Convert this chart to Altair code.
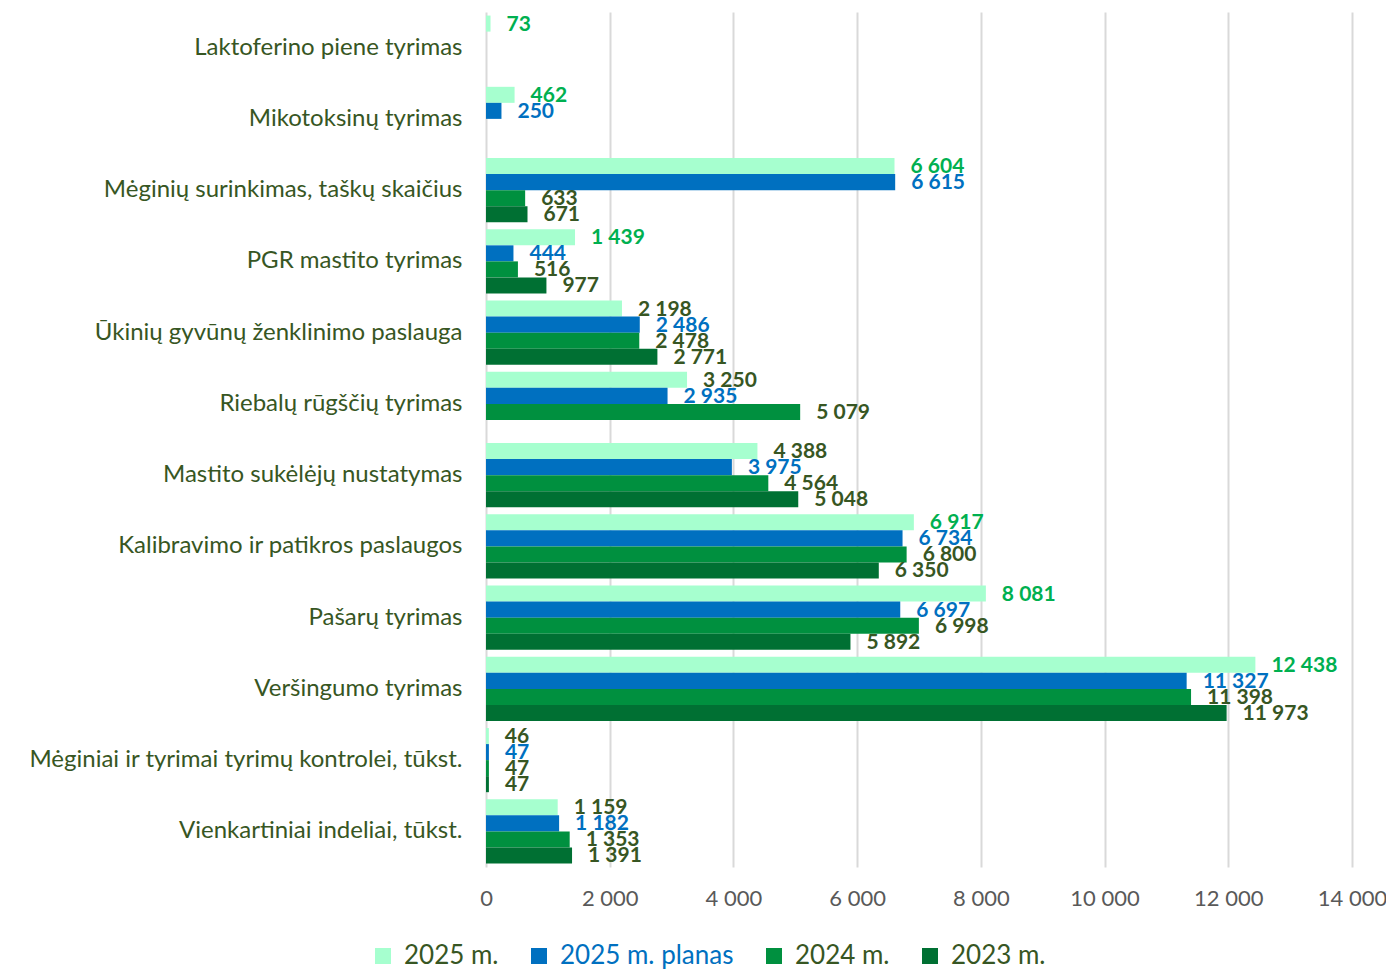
import altair as alt
import pandas as pd

categories = [
    "Laktoferino piene tyrimas",
    "Mikotoksinų tyrimas",
    "Mėginių surinkimas, taškų skaičius",
    "PGR mastito tyrimas",
    "Ūkinių gyvūnų ženklinimo paslauga",
    "Riebalų rūgščių tyrimas",
    "Mastito sukėlėjų nustatymas",
    "Kalibravimo ir patikros paslaugos",
    "Pašarų tyrimas",
    "Veršingumo tyrimas",
    "Mėginiai ir tyrimai tyrimų kontrolei, tūkst.",
    "Vienkartiniai indeliai, tūkst.",
]
series_names = ["2025 m.", "2025 m. planas", "2024 m.", "2023 m."]
v2025 = [73, 462, 6604, 1439, 2198, 3250, 4388, 6917, 8081, 12438, 46, 1159]
v2025_plan = [None, 250, 6615, 444, 2486, 2935, 3975, 6734, 6697, 11327, 47, 1182]
v2024 = [None, None, 633, 516, 2478, 5079, 4564, 6800, 6998, 11398, 47, 1353]
v2023 = [None, None, 671, 977, 2771, None, 5048, 6350, 5892, 11973, 47, 1391]
x_ticks = [0, 2000, 4000, 6000, 8000, 10000, 12000, 14000]
# rows where the 2025 label is shown in bright green
green_label_rows = [
    "Laktoferino piene tyrimas", "Mikotoksinų tyrimas",
    "Mėginių surinkimas, taškų skaičius", "PGR mastito tyrimas",
    "Kalibravimo ir patikros paslaugos", "Pašarų tyrimas", "Veršingumo tyrimas",
]

bar_colors = ["#A6FFCF", "#0070C0", "#00903F", "#007033"]
OLIVE = "#375623"
GREEN = "#00B050"
BLUE = "#0070C0"

rows = []
for s, vals in zip(series_names, [v2025, v2025_plan, v2024, v2023]):
    for c, v in zip(categories, vals):
        if s == "2025 m.":
            lc = GREEN if c in green_label_rows else OLIVE
        elif s == "2025 m. planas":
            lc = BLUE
        else:
            lc = OLIVE
        rows.append({"cat": c, "series": s, "value": v, "lc": lc})
df = pd.DataFrame(rows)

FONT = "Lato"

base = alt.Chart(df).transform_filter("isValid(datum.value)")

y_enc = alt.Y(
    "cat:N", sort=categories,
    scale=alt.Scale(paddingInner=0.1, paddingOuter=0.05),
    axis=alt.Axis(title=None, domain=False, ticks=False, labelFontSize=24,
                  labelColor=OLIVE, labelPadding=24, labelFont=FONT, labelLimit=600),
)
yoff_enc = alt.YOffset("series:N", sort=series_names,
                       scale=alt.Scale(domain=series_names, paddingInner=0, paddingOuter=0))
x_enc = alt.X(
    "value:Q",
    scale=alt.Scale(domain=[0, 14000], nice=False),
    axis=alt.Axis(values=x_ticks, title=None, grid=True, gridColor="#D9D9D9", gridWidth=2,
                  domain=False, ticks=False, labelFlush=False, labelOverlap=False,
                  labelExpr="replace(format(datum.value, ',d'), ',', ' ')",
                  labelFontSize=22, labelColor="#595959", labelPadding=21, labelFont=FONT),
)

bars = base.mark_bar().encode(
    y=y_enc,
    yOffset=yoff_enc,
    x=x_enc,
    color=alt.Color(
        "series:N", sort=series_names,
        scale=alt.Scale(domain=series_names, range=bar_colors),
        legend=alt.Legend(
            title=None, orient="none", direction="horizontal", columns=4,
            legendX=-116, legendY=931,
            symbolType="square", symbolSize=256, symbolStrokeWidth=0,
            labelFontSize=26, labelFont=FONT, labelLimit=400,
            labelColor=alt.ExprRef(
                "datum.label === '2025 m. planas' ? '#0070C0' : '#375623'"),
            columnPadding=27, labelOffset=8,
        ),
    ),
)

labels = base.transform_calculate(
    label="replace(format(datum.value, ',d'), ',', ' ')"
).mark_text(align="left", baseline="middle", dx=16, dy=1, fontSize=21,
            fontWeight="bold", font=FONT).encode(
    y=alt.Y("cat:N", sort=categories),
    yOffset=alt.YOffset("series:N", sort=series_names),
    x=alt.X("value:Q"),
    text=alt.Text("label:N"),
    color=alt.Color("lc:N", scale=None),
)

chart = alt.layer(bars, labels).properties(
    width=866, height=855, autosize="none",
    padding={"left": 478, "top": 4, "right": 34, "bottom": 104},
).configure_view(stroke=None)

chart.save("out.html", embed_options={"renderer": "svg", "actions": False})
